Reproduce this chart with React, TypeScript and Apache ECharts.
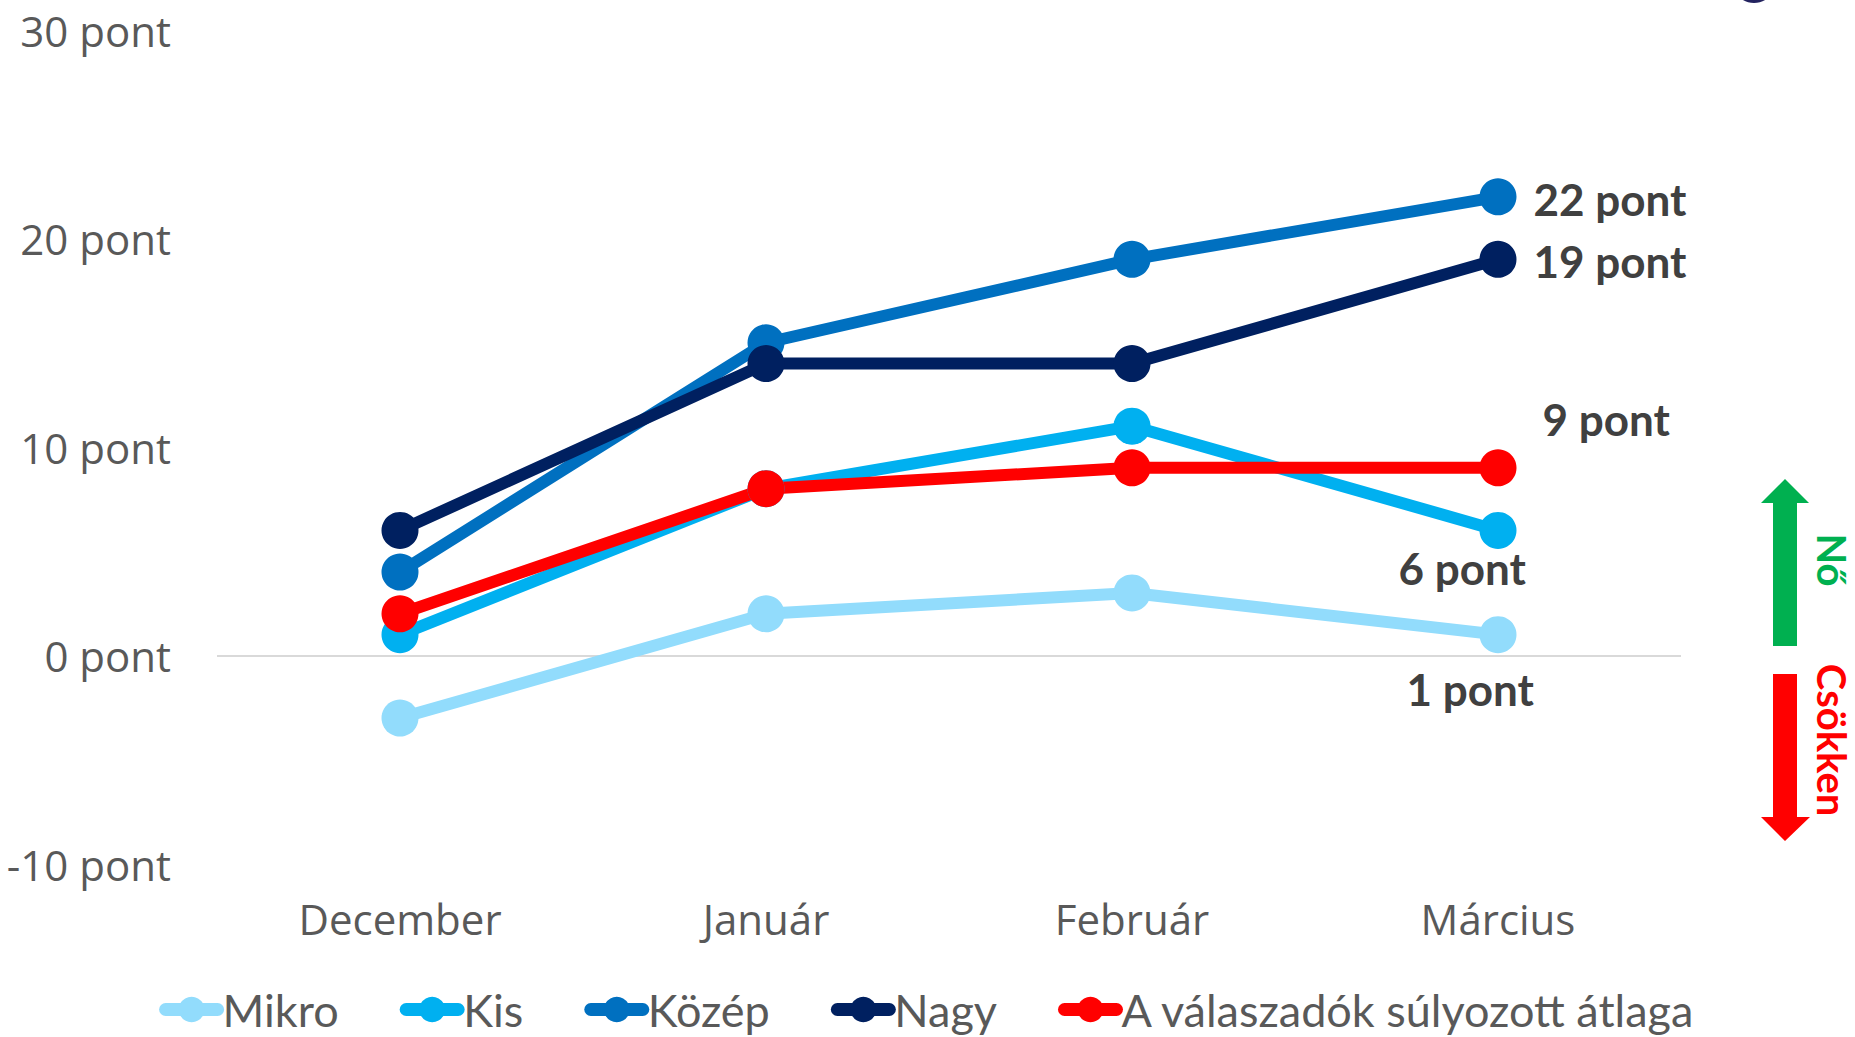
import React, { useEffect, useRef } from "react";
import * as echarts from "echarts";

const categories = ["December", "Január", "Február", "Március"];
const seriesNames = ["Mikro", "Kis", "Közép", "Nagy", "A válaszadók súlyozott átlaga"];
const mikro = [-3, 2, 3, 1];
const kis = [1, 8, 11, 6];
const kozep = [4, 15, 19, 22];
const nagy = [6, 14, 14, 19];
const atlag = [2, 8, 9, 9];
const colors = ["#92DCFC", "#00B0F0", "#0070C0", "#002060", "#FF0000"];
const yMin = -10;
const yMax = 30;
const yInterval = 10;

// label offsets for the last point of each series (position 'right')
const labelOffsets: [number, number][] = [
  [-127, 54],
  [-135, 38],
  [0, 2],
  [0, 2],
  [9, -49],
];

export default function App() {
  const ref = useRef<HTMLDivElement>(null);
  useEffect(() => {
    if (!ref.current) return;
    const chart = echarts.init(ref.current, null, { renderer: "svg" });
    const allData = [mikro, kis, kozep, nagy, atlag];
    const series = allData.map((arr, si) => ({
      name: seriesNames[si],
      type: "line",
      data: arr.map((v, i) =>
        i === arr.length - 1
          ? {
              value: v,
              label: {
                show: true,
                position: "right",
                distance: 17,
                offset: labelOffsets[si],
                formatter: "{c} pont",
                color: "#404040",
                fontFamily: "Lato",
                fontWeight: "bold",
                fontSize: 44,
                textBorderWidth: 0,
              },
            }
          : v
      ),
      symbol: "circle",
      symbolSize: 37,
      color: colors[si],
      lineStyle: { width: 12, color: colors[si] },
      itemStyle: { color: colors[si] },
      emphasis: { disabled: true },
    }));
    chart.setOption({
      animation: false,
      backgroundColor: "#ffffff",
      grid: { left: 217, right: 174, top: 30, bottom: 173, containLabel: false },
      xAxis: {
        type: "category",
        data: categories,
        boundaryGap: true,
        axisLine: { show: false },
        axisTick: { show: false },
        axisLabel: {
          color: "#595959",
          fontFamily: "Open Sans",
          fontSize: 42,
          margin: 33,
        },
      },
      yAxis: {
        type: "value",
        min: yMin,
        max: yMax,
        interval: yInterval,
        axisLine: { show: false },
        axisTick: { show: false },
        axisLabel: {
          color: "#595959",
          fontFamily: "Open Sans",
          fontSize: 42,
          margin: 46,
          formatter: (v: number) => `${v} pont`,
        },
        splitLine: {
          show: true,
          lineStyle: {
            color: ["transparent", "#D9D9D9", "transparent", "transparent", "transparent"],
            width: 2,
          },
        },
      },
      legend: {
        data: seriesNames,
        bottom: 5,
        left: "center",
        padding: [0, 0, 0, 12],
        itemWidth: 52,
        itemHeight: 32,
        itemGap: 61,
        lineStyle: { width: 13, cap: "round" },
        textStyle: {
          color: "#595959",
          fontFamily: "Lato",
          fontSize: 45,
        },
      },
      graphic: [
        {
          type: "ellipse",
          shape: { cx: 1754, cy: -19, rx: 22, ry: 22 },
          style: { fill: "#23235F" },
        },
        {
          type: "polygon",
          shape: {
            points: [
              [1773, 646],
              [1773, 503],
              [1761, 503],
              [1785, 479],
              [1809, 503],
              [1797, 503],
              [1797, 646],
            ],
          },
          style: { fill: "#00B050" },
        },
        {
          type: "polygon",
          shape: {
            points: [
              [1773, 674],
              [1773, 817],
              [1761, 817],
              [1785, 841],
              [1810, 817],
              [1797, 817],
              [1797, 674],
            ],
          },
          style: { fill: "#FF0000" },
        },
        {
          type: "text",
          x: 1832,
          y: 560,
          rotation: -Math.PI / 2,
          style: {
            text: "Nő",
            fill: "#00B050",
            font: "bold 40px Lato",
            lineHeight: 34,
            align: "center",
            verticalAlign: "middle",
          },
        },
        {
          type: "text",
          x: 1832,
          y: 740,
          rotation: -Math.PI / 2,
          style: {
            text: "Csökken",
            fill: "#FF0000",
            font: "bold 40px Lato",
            lineHeight: 34,
            align: "center",
            verticalAlign: "middle",
          },
        },
      ],
      series,
    });
    return () => chart.dispose();
  }, []);
  return (
    <div
      ref={ref}
      style={{ position: "fixed", left: 0, top: 0, width: 1855, height: 1037 }}
    />
  );
}
